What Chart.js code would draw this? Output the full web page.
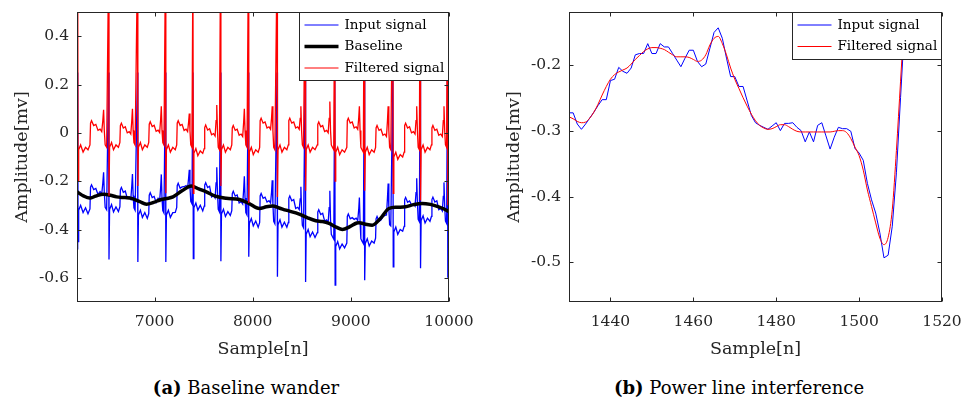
<!DOCTYPE html>
<html>
<head>
<meta charset="utf-8">
<script src="https://cdn.jsdelivr.net/npm/chart.js@4.4.1/dist/chart.umd.min.js"></script>
<style>
html,body{margin:0;padding:0;background:#fff;width:965px;height:401px;overflow:hidden;}
#wrapA{position:absolute;left:0;top:0;width:480px;height:365px;}
#wrapB{position:absolute;left:480px;top:0;width:485px;height:365px;}
.cap{position:absolute;top:376px;font-family:"DejaVu Serif";font-size:18px;color:#000;white-space:nowrap;line-height:24px;transform:translateX(-50%);}
</style>
</head>
<body>
<div id="wrapA"><canvas id="chartA" width="480" height="365"></canvas></div>
<div id="wrapB"><canvas id="chartB" width="485" height="365"></canvas></div>
<div class="cap" style="left:246px"><b>(a)</b> Baseline wander</div>
<div class="cap" style="left:739px"><b>(b)</b> Power line interference</div>
<script>
// ---------------- Panel (a): Baseline wander ----------------
const xTicksA = [7000, 8000, 9000, 10000];
const yTicksA = [-0.6, -0.4, -0.2, 0, 0.2, 0.4];

const sampleA = [
  6210,
  6217,6221,6227,6247,6272,6297,6322,6342,6348,6358,6380,6402,6424,6445,6462,6473,6481,6488,6497,6512,
  6532,6536,6542,6562,6582,6607,6632,6647,6652,6662,6682,6702,6722,6742,6758,6768,6775,6782,6790,6802,
  6826,6830,6836,6856,6876,6901,6926,6941,6946,6956,6976,6996,7016,7036,7052,7062,7069,7076,7084,7096,
  7111,7115,7121,7141,7161,7186,7211,7226,7231,7241,7261,7281,7301,7321,7337,7347,7354,7361,7369,7381,
  7391,7395,7401,7421,7441,7466,7491,7506,7511,7521,7541,7561,7581,7601,7617,7627,7634,7641,7649,7661,
  7672,7676,7682,7702,7722,7747,7772,7787,7792,7802,7822,7842,7862,7882,7898,7908,7915,7922,7930,7942,
  7956,7960,7966,7986,8006,8031,8056,8071,8076,8086,8106,8126,8146,8166,8182,8192,8199,8206,8214,8226,
  8248,8252,8258,8278,8298,8323,8348,8363,8368,8378,8398,8418,8438,8458,8474,8484,8491,8498,8506,8518,
  8535,8539,8545,8565,8585,8610,8635,8658,8663,8673,8693,8713,8733,8753,8769,8779,8786,8793,8801,8813,8826,
  8836,8840,8846,8866,8886,8911,8936,8959,8964,8974,8994,9014,9034,9054,9070,9080,9087,9094,9102,9114,9127,
  9137,9141,9147,9167,9187,9212,9237,9252,9257,9267,9287,9307,9327,9347,9363,9373,9380,9387,9395,9407,
  9428,9432,9438,9458,9478,9503,9528,9543,9548,9558,9578,9598,9618,9638,9654,9664,9671,9678,9686,9698,
  9706,9710,9716,9736,9756,9781,9806,9821,9826,9836,9856,9876,9896,9916,9932,9942,9949,9956,9964,9976,
  9984,9988,9994,10000
];

const inputA = [
  -0.48,
  0.25,-0.45,-0.32,-0.30,-0.33,-0.31,-0.335,-0.315,-0.225,-0.215,-0.235,-0.23,-0.255,-0.243,-0.253,-0.208,-0.163,-0.248,-0.308,-0.318,
  0.25,-0.524,-0.317,-0.297,-0.327,-0.307,-0.326,-0.306,-0.236,-0.226,-0.246,-0.241,-0.27,-0.265,-0.275,-0.22,-0.17,-0.26,-0.31,-0.32,
  0.25,-0.534,-0.34,-0.32,-0.35,-0.33,-0.354,-0.334,-0.258,-0.248,-0.268,-0.263,-0.288,-0.271,-0.281,-0.227,-0.172,-0.272,-0.322,-0.332,
  0.25,-0.534,-0.34,-0.32,-0.35,-0.33,-0.329,-0.309,-0.219,-0.209,-0.229,-0.224,-0.223,-0.218,-0.228,-0.188,-0.153,-0.223,-0.283,-0.293,
  0.25,-0.52,-0.31,-0.29,-0.32,-0.30,-0.323,-0.303,-0.216,-0.206,-0.226,-0.221,-0.265,-0.26,-0.27,-0.207,-0.142,-0.247,-0.317,-0.327,
  0.25,-0.531,-0.336,-0.316,-0.346,-0.326,-0.342,-0.322,-0.252,-0.242,-0.262,-0.257,-0.29,-0.285,-0.295,-0.235,-0.18,-0.27,-0.33,-0.34,
  0.25,-0.513,-0.375,-0.355,-0.385,-0.365,-0.391,-0.371,-0.261,-0.251,-0.271,-0.266,-0.286,-0.281,-0.291,-0.246,-0.196,-0.296,-0.366,-0.376,
  0.25,-0.596,-0.38,-0.36,-0.39,-0.37,-0.391,-0.371,-0.271,-0.261,-0.281,-0.276,-0.313,-0.308,-0.318,-0.273,-0.223,-0.323,-0.383,-0.393,
  0.25,-0.617,-0.42,-0.40,-0.43,-0.41,-0.433,-0.413,-0.328,-0.318,-0.338,-0.333,-0.365,-0.36,-0.37,-0.31,-0.24,-0.36,-0.42,-0.43,-0.44,
  0.25,-0.63,-0.47,-0.45,-0.48,-0.46,-0.476,-0.456,-0.346,-0.336,-0.356,-0.351,-0.358,-0.353,-0.363,-0.318,-0.268,-0.368,-0.438,-0.448,-0.458,
  0.25,-0.61,-0.458,-0.438,-0.468,-0.448,-0.456,-0.436,-0.356,-0.346,-0.366,-0.361,-0.347,-0.342,-0.34,-0.27,-0.21,-0.31,-0.38,-0.385,
  0.25,-0.555,-0.41,-0.39,-0.42,-0.40,-0.407,-0.387,-0.277,-0.267,-0.287,-0.282,-0.298,-0.293,-0.303,-0.248,-0.188,-0.288,-0.358,-0.368,
  0.25,-0.56,-0.363,-0.343,-0.373,-0.353,-0.366,-0.346,-0.276,-0.266,-0.286,-0.281,-0.318,-0.313,-0.323,-0.263,-0.205,-0.305,-0.365,-0.375,
  0.25,-0.60,-0.42,-0.39
];

const filteredA = [
  -0.15,
  0.70,-0.20,-0.07,-0.05,-0.08,-0.06,-0.07,-0.05,0.04,0.05,0.03,0.035,0.01,0.015,0.005,0.05,0.095,0.01,-0.05,-0.06,
  0.70,-0.26,-0.06,-0.04,-0.07,-0.05,-0.06,-0.04,0.03,0.04,0.02,0.025,0.00,0.005,-0.005,0.05,0.10,0.01,-0.04,-0.05,
  0.70,-0.22,-0.06,-0.04,-0.07,-0.05,-0.06,-0.04,0.036,0.046,0.026,0.031,0.006,0.011,0.001,0.055,0.11,0.01,-0.04,-0.05,
  0.70,-0.25,-0.07,-0.05,-0.08,-0.06,-0.07,-0.05,0.04,0.05,0.03,0.035,0.01,0.015,0.005,0.045,0.08,0.01,-0.05,-0.06,
  0.70,-0.25,-0.085,-0.065,-0.095,-0.075,-0.085,-0.065,0.022,0.032,0.012,0.017,-0.008,-0.003,-0.013,0.05,0.115,0.01,-0.06,-0.07,
  0.70,-0.22,-0.07,-0.05,-0.08,-0.06,-0.07,-0.05,0.02,0.03,0.01,0.015,-0.01,-0.005,-0.015,0.045,0.10,0.01,-0.05,-0.06,
  0.70,-0.29,-0.08,-0.06,-0.09,-0.07,-0.08,-0.06,0.05,0.06,0.04,0.045,0.02,0.025,0.015,0.06,0.11,0.01,-0.06,-0.07,
  0.70,-0.265,-0.07,-0.05,-0.08,-0.06,-0.07,-0.05,0.05,0.06,0.04,0.045,0.02,0.025,0.015,0.06,0.11,0.01,-0.05,-0.06,
  0.70,-0.24,-0.07,-0.05,-0.08,-0.06,-0.07,-0.05,0.035,0.045,0.025,0.03,0.005,0.01,0.0,0.06,0.13,0.01,-0.05,-0.06,-0.07,
  0.70,-0.20,-0.08,-0.06,-0.09,-0.07,-0.08,-0.06,0.05,0.06,0.04,0.045,0.02,0.025,0.015,0.06,0.11,0.01,-0.06,-0.07,-0.08,
  0.70,-0.24,-0.08,-0.06,-0.09,-0.07,-0.08,-0.06,0.02,0.03,0.01,0.015,-0.01,-0.005,-0.015,0.05,0.11,0.01,-0.06,-0.07,
  0.70,-0.25,-0.10,-0.08,-0.11,-0.09,-0.10,-0.08,0.03,0.04,0.02,0.025,0.0,0.005,-0.005,0.05,0.11,0.01,-0.06,-0.07,
  0.70,-0.28,-0.07,-0.05,-0.08,-0.06,-0.07,-0.05,0.02,0.03,0.01,0.015,-0.01,-0.005,-0.015,0.05,0.11,0.01,-0.05,-0.06,
  0.70,-0.30,-0.10,-0.07
];

const baselineX = [6210,6280,6340,6400,6477,6550,6613,6700,6765,6850,6918,6990,7053,7120,7188,7280,7374,7450,7527,7620,7730,7865,7960,8068,8140,8203,8270,8339,8474,8560,8643,8710,8779,8850,8914,8990,9060,9083,9150,9218,9300,9388,9470,9557,9640,9726,9810,9895,9950,10000];
const baselineA = [-0.244,-0.262,-0.270,-0.262,-0.254,-0.258,-0.265,-0.268,-0.271,-0.285,-0.295,-0.288,-0.278,-0.272,-0.265,-0.240,-0.220,-0.232,-0.244,-0.262,-0.271,-0.276,-0.292,-0.313,-0.306,-0.303,-0.311,-0.320,-0.336,-0.352,-0.364,-0.367,-0.375,-0.390,-0.400,-0.388,-0.373,-0.372,-0.378,-0.382,-0.355,-0.313,-0.308,-0.306,-0.297,-0.292,-0.296,-0.306,-0.315,-0.327];

// ---------------- Panel (b): Power line interference ----------------
const xTicksB = [1440, 1460, 1480, 1500, 1520];
const yTicksB = [-0.5, -0.4, -0.3, -0.2];

const sampleB = [1430,1431,1432,1433,1434,1435,1436,1437,1438,1439,1440,1441,1442,1443,1444,1445,1446,1447,1448,1449,
  1450,1451,1452,1453,1454,1455,1456,1457,1458,1459,1460,1461,1462,1463,1464,1465,1466,1467,1468,1469,
  1470,1471,1472,1473,1474,1475,1476,1477,1478,1479,1480,1481,1482,1483,1484,1485,1486,1487,1488,1489,
  1490,1491,1492,1493,1494,1495,1496,1497,1498,1499,1500,1501,1502,1503,1504,1505,1506,1507,1508,1509,
  1510,1511];

const inputB = [-0.273,-0.273,-0.290,-0.298,-0.290,-0.281,-0.272,-0.262,-0.253,-0.253,-0.224,-0.222,-0.204,-0.210,-0.213,-0.205,-0.185,-0.183,-0.183,-0.168,
  -0.183,-0.183,-0.168,-0.173,-0.173,-0.183,-0.193,-0.203,-0.190,-0.178,-0.178,-0.195,-0.203,-0.199,-0.175,-0.151,-0.144,-0.160,-0.190,-0.218,
  -0.218,-0.233,-0.233,-0.255,-0.277,-0.288,-0.292,-0.295,-0.298,-0.293,-0.288,-0.300,-0.289,-0.289,-0.288,-0.295,-0.300,-0.317,-0.302,-0.317,
  -0.292,-0.288,-0.308,-0.328,-0.310,-0.295,-0.297,-0.297,-0.301,-0.327,-0.334,-0.345,-0.380,-0.405,-0.425,-0.455,-0.493,-0.489,-0.445,-0.364,
  -0.250,-0.137];

const filteredB = [-0.279,-0.282,-0.286,-0.288,-0.287,-0.281,-0.272,-0.260,-0.246,-0.233,-0.222,-0.215,-0.211,-0.208,-0.205,-0.199,-0.192,-0.186,-0.180,-0.176,
  -0.174,-0.174,-0.175,-0.177,-0.181,-0.185,-0.188,-0.188,-0.188,-0.189,-0.192,-0.195,-0.193,-0.185,-0.170,-0.160,-0.157,-0.168,-0.185,-0.205,
  -0.222,-0.236,-0.250,-0.263,-0.275,-0.285,-0.292,-0.296,-0.298,-0.297,-0.294,-0.291,-0.291,-0.294,-0.298,-0.301,-0.302,-0.302,-0.302,-0.302,
  -0.302,-0.302,-0.302,-0.302,-0.301,-0.300,-0.300,-0.303,-0.312,-0.325,-0.338,-0.360,-0.390,-0.415,-0.440,-0.463,-0.473,-0.462,-0.420,-0.330,
  -0.225,-0.120];

// ---------------- helpers ----------------
const FONT = 'DejaVu Serif';
const AXIS_COLOR = '#262626';

function pts(xs, ys) {
  const n = Math.min(xs.length, ys.length);
  const out = [];
  for (let i = 0; i < n; i++) out.push({x: xs[i], y: ys[i]});
  return out;
}

const matlabAxes = {
  id: 'matlabAxes',
  afterDatasetsDraw(chart) {
    const {ctx, chartArea: a, scales: {x, y}} = chart;
    ctx.save();
    ctx.strokeStyle = AXIS_COLOR;
    ctx.lineWidth = 1;
    const L = Math.round(a.left) + 0.5, R = Math.round(a.right) - 0.5;
    const T = Math.round(a.top) + 0.5, B = Math.round(a.bottom) - 0.5;
    ctx.beginPath();
    x.ticks.forEach(t => {
      const px = Math.round(x.getPixelForValue(t.value)) + 0.5;
      ctx.moveTo(px, B); ctx.lineTo(px, B - 4);
      ctx.moveTo(px, T); ctx.lineTo(px, T + 4);
    });
    y.ticks.forEach(t => {
      const py = Math.round(y.getPixelForValue(t.value)) + 0.5;
      ctx.moveTo(L, py); ctx.lineTo(L + 4, py);
      ctx.moveTo(R, py); ctx.lineTo(R - 4, py);
    });
    ctx.stroke();
    ctx.strokeRect(L, T, R - L, B - T);
    ctx.restore();
  }
};

const boxLegend = {
  id: 'boxLegend',
  afterDraw(chart, args, opts) {
    const {ctx, chartArea: a} = chart;
    const ds = chart.data.datasets;
    ctx.save();
    ctx.font = opts.fontSize + 'px "' + FONT + '"';
    const tw = Math.max(...ds.map(d => ctx.measureText(d.label).width));
    const padL = 5, lineLen = 34, gap = 6, padR = 5, rowH = 21.5, first = 12.5;
    const w = Math.round(padL + lineLen + gap + tw + padR);
    const h = Math.round(first * 2 + (ds.length - 1) * rowH);
    const x0 = Math.round(a.right) - w + 0.5, y0 = Math.round(a.top) + 0.5;
    ctx.fillStyle = '#ffffff';
    ctx.fillRect(x0, y0, w - 1, h);
    ctx.strokeStyle = AXIS_COLOR;
    ctx.lineWidth = 1;
    ctx.strokeRect(x0, y0, w - 1, h);
    ds.forEach((d, i) => {
      const cy = y0 + first + i * rowH;
      ctx.strokeStyle = d.borderColor;
      ctx.lineWidth = d.legendWidth || d.borderWidth;
      ctx.beginPath();
      ctx.moveTo(x0 + padL, cy);
      ctx.lineTo(x0 + padL + lineLen, cy);
      ctx.stroke();
      ctx.fillStyle = '#000';
      ctx.textBaseline = 'middle';
      ctx.textAlign = 'left';
      ctx.fillText(d.label, x0 + padL + lineLen + gap, cy);
    });
    ctx.restore();
  }
};

function makeScales(c) {
  return {
    x: {
      type: 'linear', min: c.xMin, max: c.xMax,
      afterBuildTicks: s => { s.ticks = c.xTicks.map(v => ({value: v})); },
      afterFit: s => { s.height = 63; s.paddingLeft = 0; s.paddingRight = 0; },
      grid: {display: false, drawTicks: false},
      border: {display: false},
      ticks: {font: {family: FONT, size: 15.5}, color: AXIS_COLOR, padding: 11, maxRotation: 0, autoSkip: false,
              callback: v => String(v)},
      title: {display: true, text: 'Sample[n]', color: AXIS_COLOR, font: {family: FONT, size: 17.5},
              padding: {top: 0, bottom: 5}}
    },
    y: {
      type: 'linear', min: c.yMin, max: c.yMax,
      afterBuildTicks: s => { s.ticks = c.yTicks.map(v => ({value: v})); },
      afterFit: s => { s.width = c.yWidth; s.paddingTop = 0; s.paddingBottom = 0; },
      grid: {display: false, drawTicks: false},
      border: {display: false},
      ticks: {font: {family: FONT, size: 15.5}, color: AXIS_COLOR, padding: 8, autoSkip: false,
              callback: v => String(v)},
      title: {display: true, text: 'Amplitude[mv]', color: AXIS_COLOR, font: {family: FONT, size: 17.5},
              padding: {top: c.yTitlePad, bottom: 0}}
    }
  };
}

new Chart(document.getElementById('chartA'), {
  type: 'line',
  data: {
    datasets: [
      {label: 'Input signal', data: pts(sampleA, inputA), borderColor: '#0000ff', borderWidth: 1.3, legendWidth: 1,
       pointRadius: 0, tension: 0, order: 2, clip: 0},
      {label: 'Baseline', data: pts(baselineX, baselineA), borderColor: '#000000', borderWidth: 3.5,
       pointRadius: 0, tension: 0.4, cubicInterpolationMode: 'monotone', order: 1, clip: 0},
      {label: 'Filtered signal', data: pts(sampleA, filteredA), borderColor: '#ff0000', borderWidth: 1.3, legendWidth: 1,
       pointRadius: 0, tension: 0, order: 0, clip: 0}
    ]
  },
  options: {
    responsive: false, animation: false, devicePixelRatio: 1,
    layout: {padding: {top: 12, right: 31, left: 0, bottom: 0}},
    plugins: {legend: {display: false}, tooltip: {enabled: false}, boxLegend: {fontSize: 13.5}},
    scales: makeScales({xMin: 6210, xMax: 10000, xTicks: xTicksA, yMin: -0.7, yMax: 0.5, yTicks: yTicksA,
                        yWidth: 77, yTitlePad: 12})
  },
  plugins: [matlabAxes, boxLegend]
});

new Chart(document.getElementById('chartB'), {
  type: 'line',
  data: {
    datasets: [
      {label: 'Input signal', data: pts(sampleB, inputB), borderColor: '#0000ff', borderWidth: 1,
       pointRadius: 0, tension: 0, order: 1, clip: 0},
      {label: 'Filtered signal', data: pts(sampleB, filteredB), borderColor: '#ff0000', borderWidth: 1,
       pointRadius: 0, tension: 0.3, cubicInterpolationMode: 'monotone', order: 0, clip: 0}
    ]
  },
  options: {
    responsive: false, animation: false, devicePixelRatio: 1,
    layout: {padding: {top: 12, right: 23, left: 0, bottom: 0}},
    plugins: {legend: {display: false}, tooltip: {enabled: false}, boxLegend: {fontSize: 13.5}},
    scales: makeScales({xMin: 1430, xMax: 1520, xTicks: xTicksB, yMin: -0.56, yMax: -0.12, yTicks: yTicksB,
                        yWidth: 89, yTitlePad: 24})
  },
  plugins: [matlabAxes, boxLegend]
});
</script>
</body>
</html>
